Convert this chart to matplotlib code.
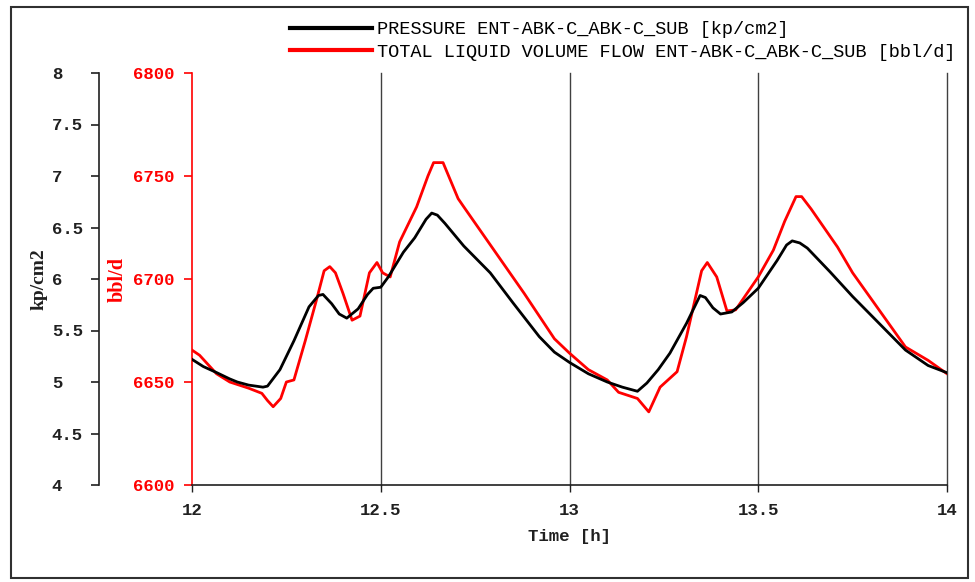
import matplotlib
matplotlib.use("Agg")
import matplotlib.pyplot as plt
from matplotlib.patches import Rectangle

# pressure [kp/cm2]
t_p = [12.00, 12.03, 12.066, 12.10, 12.12, 12.15, 12.188, 12.20, 12.233, 12.27,
       12.31, 12.335, 12.347, 12.37, 12.39, 12.41, 12.44, 12.465, 12.48, 12.50,
       12.52, 12.56, 12.59, 12.62, 12.635, 12.65, 12.67, 12.72, 12.79, 12.85,
       12.92, 12.96, 13.00, 13.05, 13.10, 13.14, 13.18, 13.205, 13.235, 13.266,
       13.31, 13.33, 13.346, 13.36, 13.38, 13.40, 13.43, 13.46, 13.50, 13.55,
       13.575, 13.59, 13.61, 13.63, 13.69, 13.75, 13.82, 13.89, 13.95, 14.00]
pressure = [5.22, 5.15, 5.09, 5.03, 5.00, 4.97, 4.95, 4.96, 5.12, 5.40,
            5.73, 5.84, 5.85, 5.76, 5.66, 5.62, 5.71, 5.85, 5.91, 5.92,
            6.02, 6.26, 6.40, 6.58, 6.64, 6.62, 6.54, 6.32, 6.06, 5.77,
            5.44, 5.29, 5.19, 5.08, 5.00, 4.95, 4.91, 4.99, 5.12, 5.28,
            5.57, 5.72, 5.84, 5.82, 5.72, 5.66, 5.68, 5.77, 5.91, 6.18,
            6.33, 6.37, 6.35, 6.30, 6.07, 5.83, 5.57, 5.31, 5.16, 5.09]

# total liquid volume flow [bbl/d]
t_f = [12.00, 12.02, 12.065, 12.10, 12.15, 12.185, 12.20, 12.215, 12.235, 12.25,
       12.27, 12.30, 12.33, 12.35, 12.365, 12.38, 12.40, 12.424, 12.445, 12.47,
       12.49, 12.505, 12.525, 12.55, 12.595, 12.625, 12.64, 12.665, 12.705, 12.72,
       12.80, 12.88, 12.96, 13.00, 13.05, 13.10, 13.13, 13.18, 13.21, 13.24,
       13.285, 13.31, 13.33, 13.35, 13.365, 13.39, 13.417, 13.44, 13.47, 13.50,
       13.54, 13.57, 13.60, 13.615, 13.64, 13.71, 13.75, 13.82, 13.89, 13.95, 14.00]
flow = [6665.5, 6663, 6654, 6650, 6647, 6644.5, 6641, 6638, 6642, 6650,
        6651, 6670, 6690, 6704, 6706, 6703, 6693, 6680, 6682, 6703,
        6708, 6703, 6701, 6718, 6735, 6750, 6756.5, 6756.5, 6739, 6735,
        6714, 6693, 6671, 6664, 6656, 6651, 6645, 6642, 6635.5, 6647.5,
        6655, 6672, 6688, 6704, 6708, 6701, 6684.5, 6685, 6693, 6701,
        6714, 6728, 6740, 6740, 6734, 6715.5, 6703, 6685, 6667, 6660.5, 6654]

x_ticks = [12, 12.5, 13, 13.5, 14]
x_labels = ["12", "12.5", "13", "13.5", "14"]
p_ticks = [4, 4.5, 5, 5.5, 6, 6.5, 7, 7.5, 8]
p_labels = ["4", "4.5", "5", "5.5", "6", "6.5", "7", "7.5", "8"]
f_ticks = [6600, 6650, 6700, 6750, 6800]

RED = "#ff0000"
DARK = "#202020"
mono = "Liberation Mono"
fs = 12.5

fig = plt.figure(figsize=(9.75, 5.82), dpi=100)
fig.patches.append(Rectangle((11 / 975, 1 - 578 / 582), 957 / 975, 571 / 582,
                             transform=fig.transFigure, fill=False,
                             edgecolor="#303030", linewidth=1.5))

ax = fig.add_axes([192 / 975, 1 - 485 / 582, 755 / 975, 412 / 582])
ax2 = ax.twinx()

ax.plot(t_f, flow, color=RED, lw=2)
ax2.plot(t_p, pressure, color="black", lw=2)

ax.set_xlim(12, 14)
ax.set_ylim(6600, 6800)
ax2.set_ylim(4, 8)

for v in x_ticks[1:]:
    ax.axvline(v, color="#404040", lw=1, zorder=0, clip_on=False)

for a in (ax, ax2):
    a.spines["top"].set_visible(False)
    a.spines["right"].set_visible(False)
    a.patch.set_visible(False)

# red flow axis on the plot edge
ax.spines["left"].set_color(RED)
ax.spines["left"].set_linewidth(1.2)
ax.spines["bottom"].set_color(DARK)
ax.spines["bottom"].set_linewidth(1.2)
ax.set_yticks(f_ticks)
ax.set_yticklabels([str(v) for v in f_ticks], family=mono, fontsize=fs,
                   color=RED, fontweight="bold")
ax.tick_params(axis="y", colors=RED, length=6, width=1.2, pad=6.5)
ax.set_xticks(x_ticks)
ax.set_xticklabels(x_labels, family=mono, fontsize=fs, color=DARK,
                   fontweight="bold")
ax.tick_params(axis="x", length=5, width=1, color=DARK, pad=8)
ax.set_xlabel("Time [h]", family=mono, fontsize=fs, color=DARK,
              fontweight="bold", labelpad=8)
ax.set_ylabel("bbl/d", family="Liberation Serif", fontsize=14.5,
              fontweight="bold", color=RED)
ax.yaxis.set_label_coords(-0.085, 0.5)

# black pressure axis moved out to the left
ax2.yaxis.tick_left()
ax2.yaxis.set_label_position("left")
ax2.spines["left"].set_position(("axes", -93 / 755))
ax2.spines["left"].set_color(DARK)
ax2.spines["left"].set_linewidth(1.2)
ax2.spines["bottom"].set_visible(False)
ax2.set_yticks(p_ticks)
ax2.set_yticklabels(p_labels, family=mono, fontsize=fs, color=DARK,
                    fontweight="bold", ha="left")
ax2.tick_params(axis="y", length=6, width=1.2, color=DARK, pad=28)
ax2.set_ylabel("kp/cm2", family="Liberation Serif", fontsize=14,
               fontweight="bold", color=DARK)
ax2.yaxis.set_label_coords(-0.192, 0.5)

leg = ax2.legend(ax2.get_lines() + ax.get_lines(),
                 ["PRESSURE ENT-ABK-C_ABK-C_SUB [kp/cm2]",
                  "TOTAL LIQUID VOLUME FLOW ENT-ABK-C_ABK-C_SUB [bbl/d]"],
                 loc="upper left", bbox_to_anchor=(290 / 975, 1 - 21 / 582),
                 bbox_transform=fig.transFigure, frameon=False,
                 prop={"family": mono, "size": 13.4}, handlelength=4.4,
                 handletextpad=0.3, labelspacing=0.32, borderpad=0,
                 borderaxespad=0)
for h in leg.get_lines():
    h.set_linewidth(3)

fig.savefig("out.png", dpi=100)
